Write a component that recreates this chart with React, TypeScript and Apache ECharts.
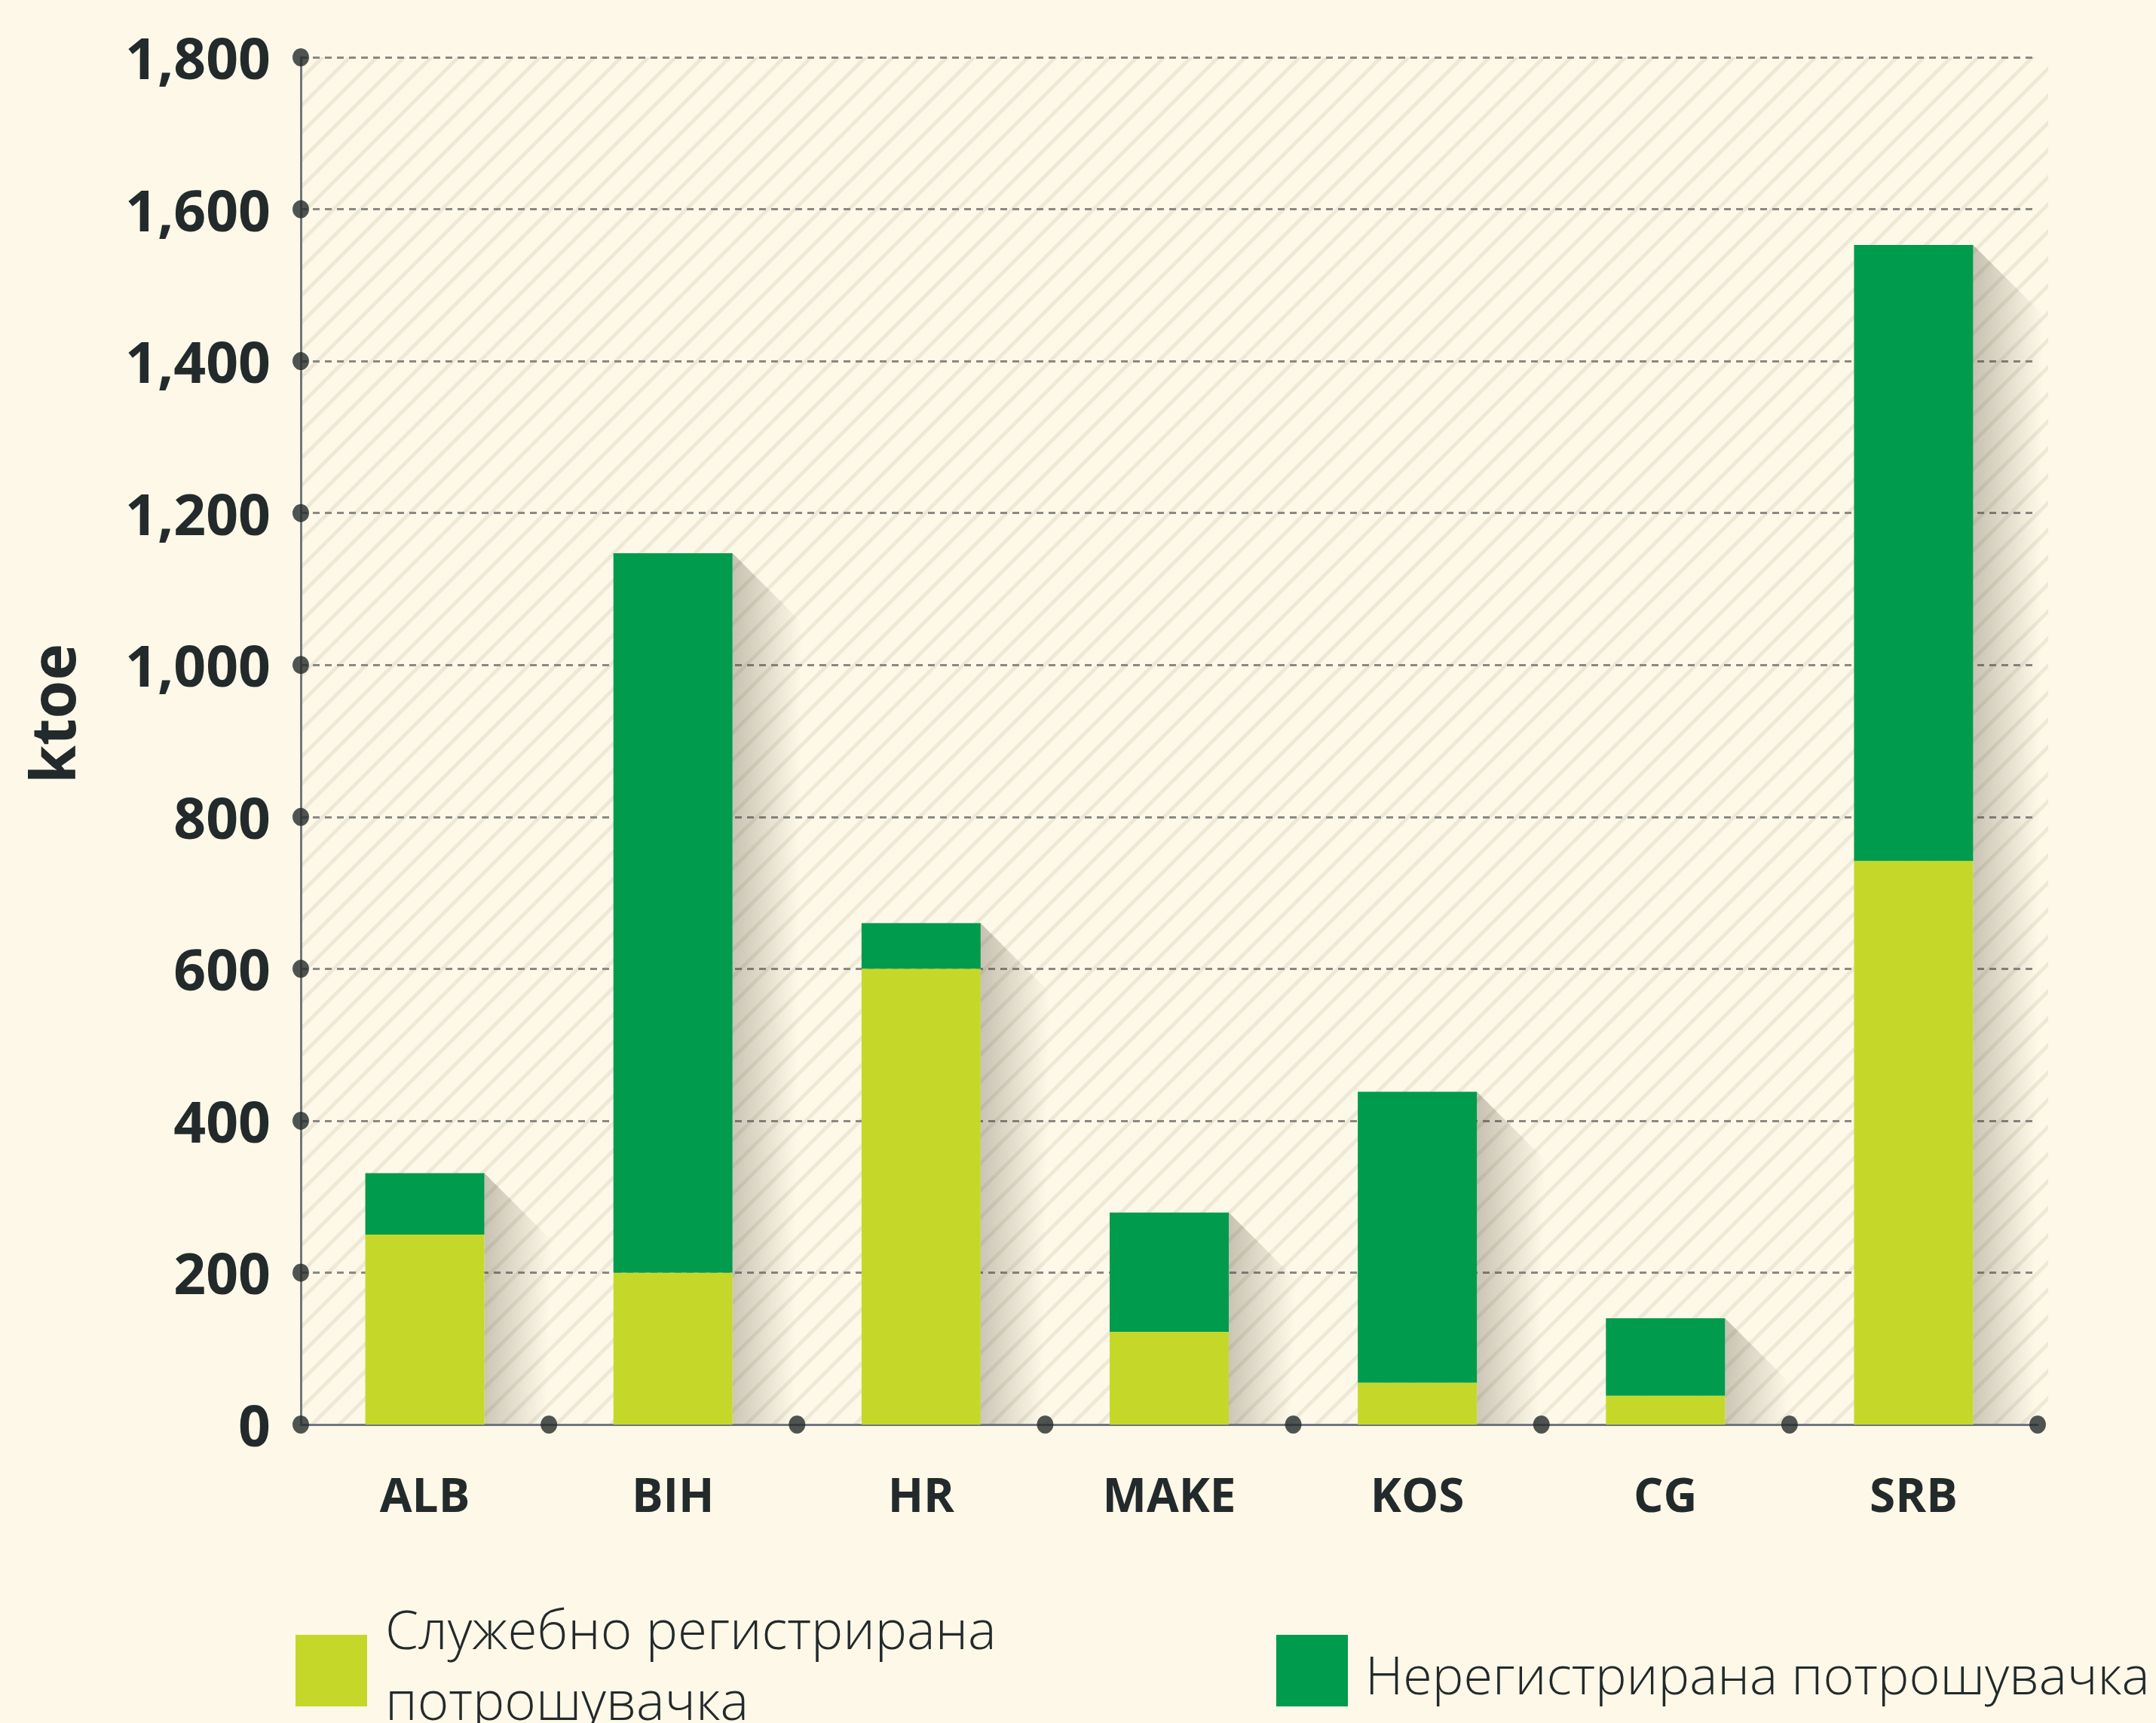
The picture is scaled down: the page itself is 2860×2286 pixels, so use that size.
import React, { useEffect, useRef } from "react";
import * as echarts from "echarts";

const categories = ["ALB", "BIH", "HR", "MAKE", "KOS", "CG", "SRB"];
const registered = [250, 200, 600, 122, 55, 38, 742];
const unregistered = [81, 947, 60, 157, 383, 102, 811];
const yMax = 1800;
const yInterval = 200;
const seriesNames = ["Служебно регистрирана потрошувачка", "Нерегистрирана потрошувачка"];
const legendLine1 = ["Служебно регистрирана", "потрошувачка"];
const yAxisName = "ktoe";

const BG = "#fef8e8";
const STRIPE = "#eee8d6";
const LIGHT = "#c5d82a";
const DARK = "#009b4c";
const INK = "#232a2b";
const AXIS = "#6e7780";

function makePattern() {
  const s = 36;
  const c = document.createElement("canvas");
  c.width = s;
  c.height = s;
  const ctx = c.getContext("2d")!;
  ctx.fillStyle = BG;
  ctx.fillRect(0, 0, s, s);
  ctx.strokeStyle = STRIPE;
  ctx.lineWidth = 5;
  ctx.beginPath();
  ctx.moveTo(-6, s + 6);
  ctx.lineTo(s + 6, -6);
  ctx.moveTo(-6, 6);
  ctx.lineTo(6, -6);
  ctx.moveTo(s - 6, s + 6);
  ctx.lineTo(s + 6, s - 6);
  ctx.stroke();
  return c;
}

export default function App() {
  const ref = useRef<HTMLDivElement>(null);
  useEffect(() => {
    document.body.style.margin = "0";
    document.body.style.background = BG;
    const chart = echarts.init(ref.current!, null, { renderer: "svg" });
    const totals = categories.map((_, i) => registered[i] + unregistered[i]);
    const dots: number[][] = [];
    for (let i = 0; i <= categories.length; i++) dots.push([i, 0]);
    for (let v = yInterval; v <= yMax; v += yInterval) dots.push([0, v]);
    const font = "'Open Sans', 'Noto Sans', sans-serif";

    chart.setOption({
      animation: false,
      backgroundColor: BG,
      grid: { left: 399, right: 157, top: 76, bottom: 396, containLabel: false },
      xAxis: [
        {
          type: "category",
          data: categories,
          axisLine: { show: true, lineStyle: { color: AXIS, width: 3 } },
          axisTick: { show: false },
          axisLabel: {
            color: INK,
            fontFamily: font,
            fontWeight: "bold",
            fontSize: 62,
            margin: 92,
            verticalAlign: "middle",
          },
          z: 1,
        },
        { type: "value", min: 0, max: categories.length, show: false },
      ],
      yAxis: {
        type: "value",
        min: 0,
        max: yMax,
        interval: yInterval,
        axisLine: { show: true, lineStyle: { color: AXIS, width: 3 } },
        axisTick: { show: false },
        axisLabel: {
          color: INK,
          fontFamily: font,
          fontWeight: "bold",
          fontSize: 75,
          margin: 40,
          formatter: (v: number) => v.toLocaleString("en-US"),
        },
        splitLine: { show: true, lineStyle: { color: "#8a8983", width: 3, type: [9, 7] } },
      },
      graphic: [
        {
          type: "rect",
          z: -10,
          silent: true,
          shape: { x: 399, y: 76, width: 2318, height: 1814 },
          style: { fill: { image: makePattern(), repeat: "repeat" } },
        },
        {
          type: "text",
          x: 68,
          y: 947,
          rotation: Math.PI / 2,
          style: {
            text: yAxisName,
            fill: INK,
            font: `bold 82px ${font}`,
            align: "center",
            verticalAlign: "middle",
          },
        },
        { type: "rect", shape: { x: 392, y: 2169, width: 95, height: 95 }, style: { fill: LIGHT } },
        {
          type: "text",
          x: 511,
          y: 2160,
          style: {
            text: legendLine1[0],
            fill: INK,
            font: `300 71px ${font}`,
            verticalAlign: "middle",
          },
        },
        {
          type: "text",
          x: 511,
          y: 2254,
          style: {
            text: legendLine1[1],
            fill: INK,
            font: `300 71px ${font}`,
            verticalAlign: "middle",
          },
        },
        { type: "rect", shape: { x: 1693, y: 2169, width: 95, height: 95 }, style: { fill: DARK } },
        {
          type: "text",
          x: 1811,
          y: 2221,
          style: {
            text: seriesNames[1],
            fill: INK,
            font: `300 70px ${font}`,
            verticalAlign: "middle",
          },
        },
      ],
      series: [
        {
          type: "custom",
          name: "shadow",
          xAxisIndex: 0,
          yAxisIndex: 0,
          z: 1,
          silent: true,
          data: categories.map((_, i) => [i, totals[i]]),
          renderItem: (params: any, api: any) => {
            const idx = api.value(0);
            const total = api.value(1);
            const top = api.coord([idx, total]);
            const base = api.coord([idx, 0]);
            const band = api.size([1, 0])[0];
            const right = top[0] + (band * 0.48) / 2;
            const W = 92;
            return {
              type: "polygon",
              shape: {
                points: [
                  [right, top[1]],
                  [right + W, top[1] + W],
                  [right + W, base[1]],
                  [right, base[1]],
                ],
              },
              style: {
                fill: new echarts.graphic.LinearGradient(0, 0, 1, 0.12, [
                  { offset: 0, color: "rgba(60,52,38,0.28)" },
                  { offset: 1, color: "rgba(60,52,38,0)" },
                ]),
              },
            };
          },
        },
        {
          type: "bar",
          name: seriesNames[0],
          stack: "total",
          barWidth: "48%",
          data: registered,
          itemStyle: { color: LIGHT },
          z: 3,
        },
        {
          type: "bar",
          name: seriesNames[1],
          stack: "total",
          barWidth: "48%",
          data: unregistered,
          itemStyle: { color: DARK },
          z: 3,
        },
        {
          type: "scatter",
          name: "axisDots",
          xAxisIndex: 1,
          yAxisIndex: 0,
          data: dots,
          symbol: "circle",
          symbolSize: [22, 24],
          itemStyle: { color: INK },
          silent: true,
          z: 5,
        },
      ],
    });
    return () => chart.dispose();
  }, []);
  return <div ref={ref} style={{ width: 2860, height: 2286 }} />;
}
